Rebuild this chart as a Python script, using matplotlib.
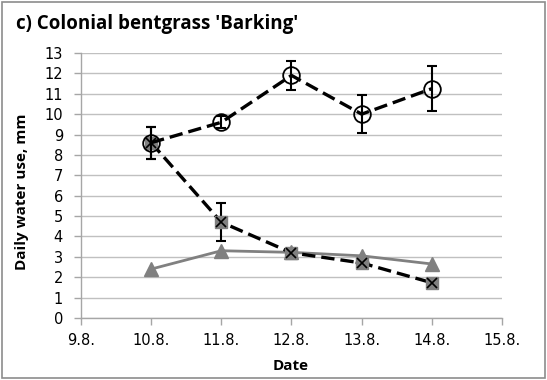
import numpy as np
import matplotlib
matplotlib.use('Agg')
import matplotlib.pyplot as plt
from matplotlib.patches import Rectangle

# data
days = [10, 11, 12, 13, 14]
tick_days = [9, 10, 11, 12, 13, 14, 15]
circ_y = [8.6, 9.6, 11.9, 10.0, 11.25]
circ_err = [0.78, 0.3, 0.7, 0.92, 1.1]
cross_y = [8.6, 4.7, 3.2, 2.7, 1.73]
cross_err = [0.78, 0.94, 0, 0, 0]
tri_y = [2.4, 3.3, 3.22, 3.05, 2.65]

my_dpi = 100
fig = plt.figure(figsize=(547 / my_dpi, 380 / my_dpi), dpi=my_dpi)
ax = fig.add_axes([81 / 547, 62 / 380, 421 / 547, 265 / 380])

grid_clr = '#c0c0c0'
axis_clr = '#a6a6a6'

ax.set_xlim(9, 15)
ax.set_ylim(0, 13)
ax.set_yticks(range(0, 14))
ax.set_xticks(tick_days)
ax.set_xticklabels(['{}.8.'.format(d) for d in tick_days])
ax.yaxis.grid(True, color=grid_clr, linewidth=1.0)
ax.set_axisbelow(True)
for s in ['top', 'right']:
    ax.spines[s].set_visible(False)
for s in ['left', 'bottom']:
    ax.spines[s].set_color(axis_clr)
    ax.spines[s].set_linewidth(1.0)
ax.tick_params(axis='both', colors=axis_clr, length=5, width=1.0,
               labelcolor='black', labelsize=10.5)
ax.tick_params(axis='y', pad=8)
ax.tick_params(axis='x', pad=6)

dash = (0, (4, 1.8))

# triangle series
ax.plot(days, tri_y, color='#808080', linewidth=2.0, marker='^',
        markersize=10, markerfacecolor='#808080', markeredgecolor='#808080', zorder=3)

# cross series
ax.errorbar(days, cross_y, yerr=cross_err, color='black', linewidth=2.4,
            linestyle=dash, elinewidth=1.5, capsize=3.6, capthick=1.5, zorder=4)
ax.plot(days, cross_y, linestyle='none', marker='s', markersize=9,
        markerfacecolor='#808080', markeredgecolor='#808080', zorder=5)
ax.plot(days, cross_y, linestyle='none', marker='x', markersize=7.5,
        markeredgecolor='black', markeredgewidth=1.2, zorder=6)

# circle series
ax.errorbar(days, circ_y, yerr=circ_err, color='black', linewidth=2.4,
            linestyle=dash, elinewidth=1.5, capsize=3.6, capthick=1.5, zorder=7)
ax.plot(days, circ_y, linestyle='none', marker='o', markersize=12,
        markerfacecolor='none', markeredgecolor='black', markeredgewidth=1.3, zorder=8)

fig.text(16 / 547, 1 - 24 / 380, "c) Colonial bentgrass 'Barking'", fontsize=13.5,
         fontweight='bold', family='Open Sans', va='center', ha='left')
fig.text(291 / 547, 1 - 366 / 380, 'Date', fontsize=11, fontweight='bold',
         family='Open Sans', va='center', ha='center')
fig.text(22 / 547, 1 - 192 / 380, 'Daily water use, mm', fontsize=11,
         fontweight='bold', family='Open Sans', va='center', ha='center',
         rotation=90)

fig.patches.append(Rectangle((2 / 547, 2 / 380), 543 / 547, 376 / 380,
                             transform=fig.transFigure, fill=False,
                             edgecolor='#8c8c8c', linewidth=1.2))

fig.savefig('out.png', dpi=my_dpi)
plt.close(fig)
